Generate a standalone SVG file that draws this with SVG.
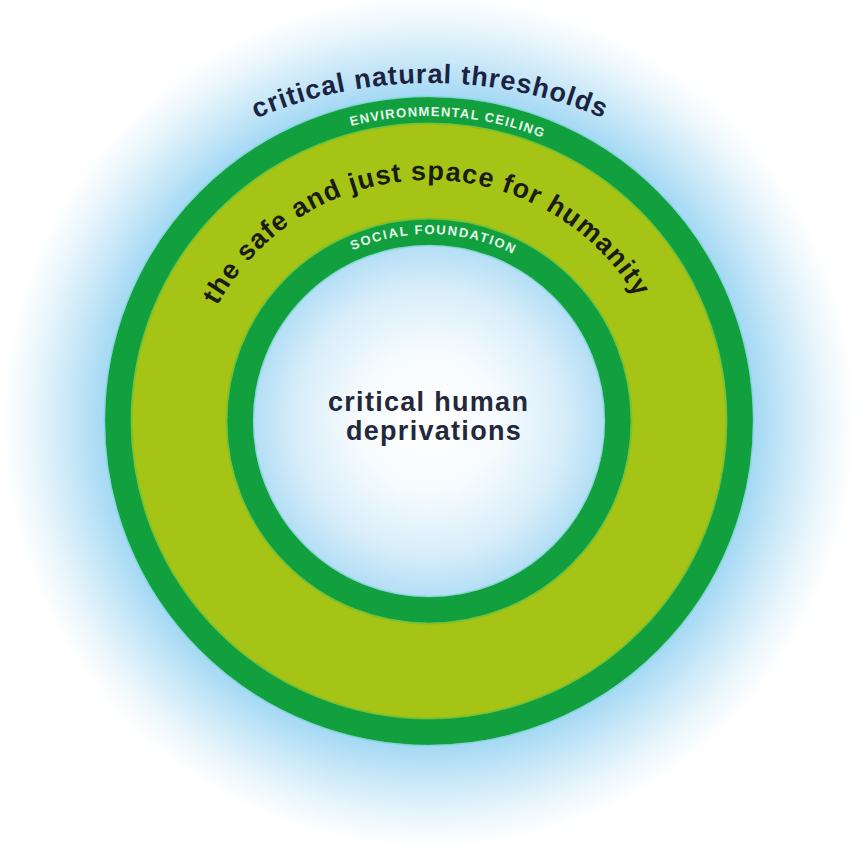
<svg xmlns="http://www.w3.org/2000/svg" width="858" height="854" viewBox="0 0 858 854">
  <style>
    .lbl { font-family: "Liberation Sans", Arial, sans-serif; font-weight: bold; }
    .big { font-size: 27px; letter-spacing: 1px; }
    .small { font-size: 13px; fill: #e8f8ec; }
  </style>
  <defs>
    <radialGradient id="glow" cx="429" cy="421" r="440" gradientUnits="userSpaceOnUse">
      <stop offset="0" stop-color="#ffffff"/>
      <stop offset="0.16" stop-color="#f6fbfe"/>
      <stop offset="0.30" stop-color="#d9eefa"/>
      <stop offset="0.40" stop-color="#b3def5"/>
      <stop offset="0.74" stop-color="#a5d9f4"/>
      <stop offset="0.82" stop-color="#c9e8f8"/>
      <stop offset="0.90" stop-color="#eaf6fc"/>
      <stop offset="0.97" stop-color="#ffffff"/>
    </radialGradient>
    <path id="arcNatural" d="M -14 527 A 444 444 0 0 1 874 527"/>
    <path id="arcCeiling" d="M 124 421 A 305 305 0 0 1 734 421"/>
    <path id="arcSafe" d="M 188 421 A 241 241 0 0 1 670 421"/>
    <path id="arcSocial" d="M 242 421 A 187 187 0 0 1 616 421"/>
  </defs>

  <rect width="858" height="854" fill="#ffffff"/>
  <g id="glow-background">
    <circle cx="429" cy="421" r="440" fill="url(#glow)"/>
  </g>

  <g id="safe-space-band">
    <circle cx="429" cy="421" r="250" fill="none" stroke="#a5c416" stroke-width="96"/>
  </g>
  <g id="environmental-ceiling">
    <circle cx="429" cy="421" r="311" fill="none" stroke="#12a03f" stroke-width="26"/>
    <circle cx="429" cy="421" r="297.5" fill="none" stroke="#6cc232" stroke-width="2" opacity="0.7"/>
    <circle cx="429" cy="421" r="324.5" fill="none" stroke="#6fd3c8" stroke-width="1.5" opacity="0.6"/>
  </g>
  <g id="social-foundation">
    <circle cx="429" cy="421" r="189" fill="none" stroke="#12a03f" stroke-width="26"/>
    <circle cx="429" cy="421" r="202.5" fill="none" stroke="#6cc232" stroke-width="2" opacity="0.7"/>
    <circle cx="429" cy="421" r="175.5" fill="none" stroke="#6fd3c8" stroke-width="1.5" opacity="0.6"/>
  </g>

  <g id="label-thresholds">
    <text class="lbl big" fill="#1c2340" text-anchor="middle"><textPath href="#arcNatural" startOffset="50%">critical natural thresholds</textPath></text>
  </g>
  <g id="label-ceiling">
    <text class="lbl small" text-anchor="middle" letter-spacing="1.3" transform="rotate(3.6 429 421)"><textPath href="#arcCeiling" startOffset="50%">ENVIRONMENTAL CEILING</textPath></text>
  </g>
  <g id="label-safe-space">
    <text class="lbl" font-size="27" letter-spacing="1.1" fill="#1a1c12" text-anchor="middle" transform="rotate(-1 429 421)"><textPath href="#arcSafe" startOffset="50%">the safe and just space for humanity</textPath></text>
  </g>
  <g id="label-social">
    <text class="lbl small" text-anchor="middle" letter-spacing="1.7" transform="rotate(1.5 429 421)"><textPath href="#arcSocial" startOffset="50%">SOCIAL FOUNDATION</textPath></text>
  </g>
  <g id="label-deprivations">
    <text class="lbl" font-size="27" letter-spacing="1.3" fill="#23283a" text-anchor="middle">
      <tspan x="433" y="411">critical human</tspan>
      <tspan x="434" y="440">deprivations</tspan>
    </text>
  </g>
</svg>
